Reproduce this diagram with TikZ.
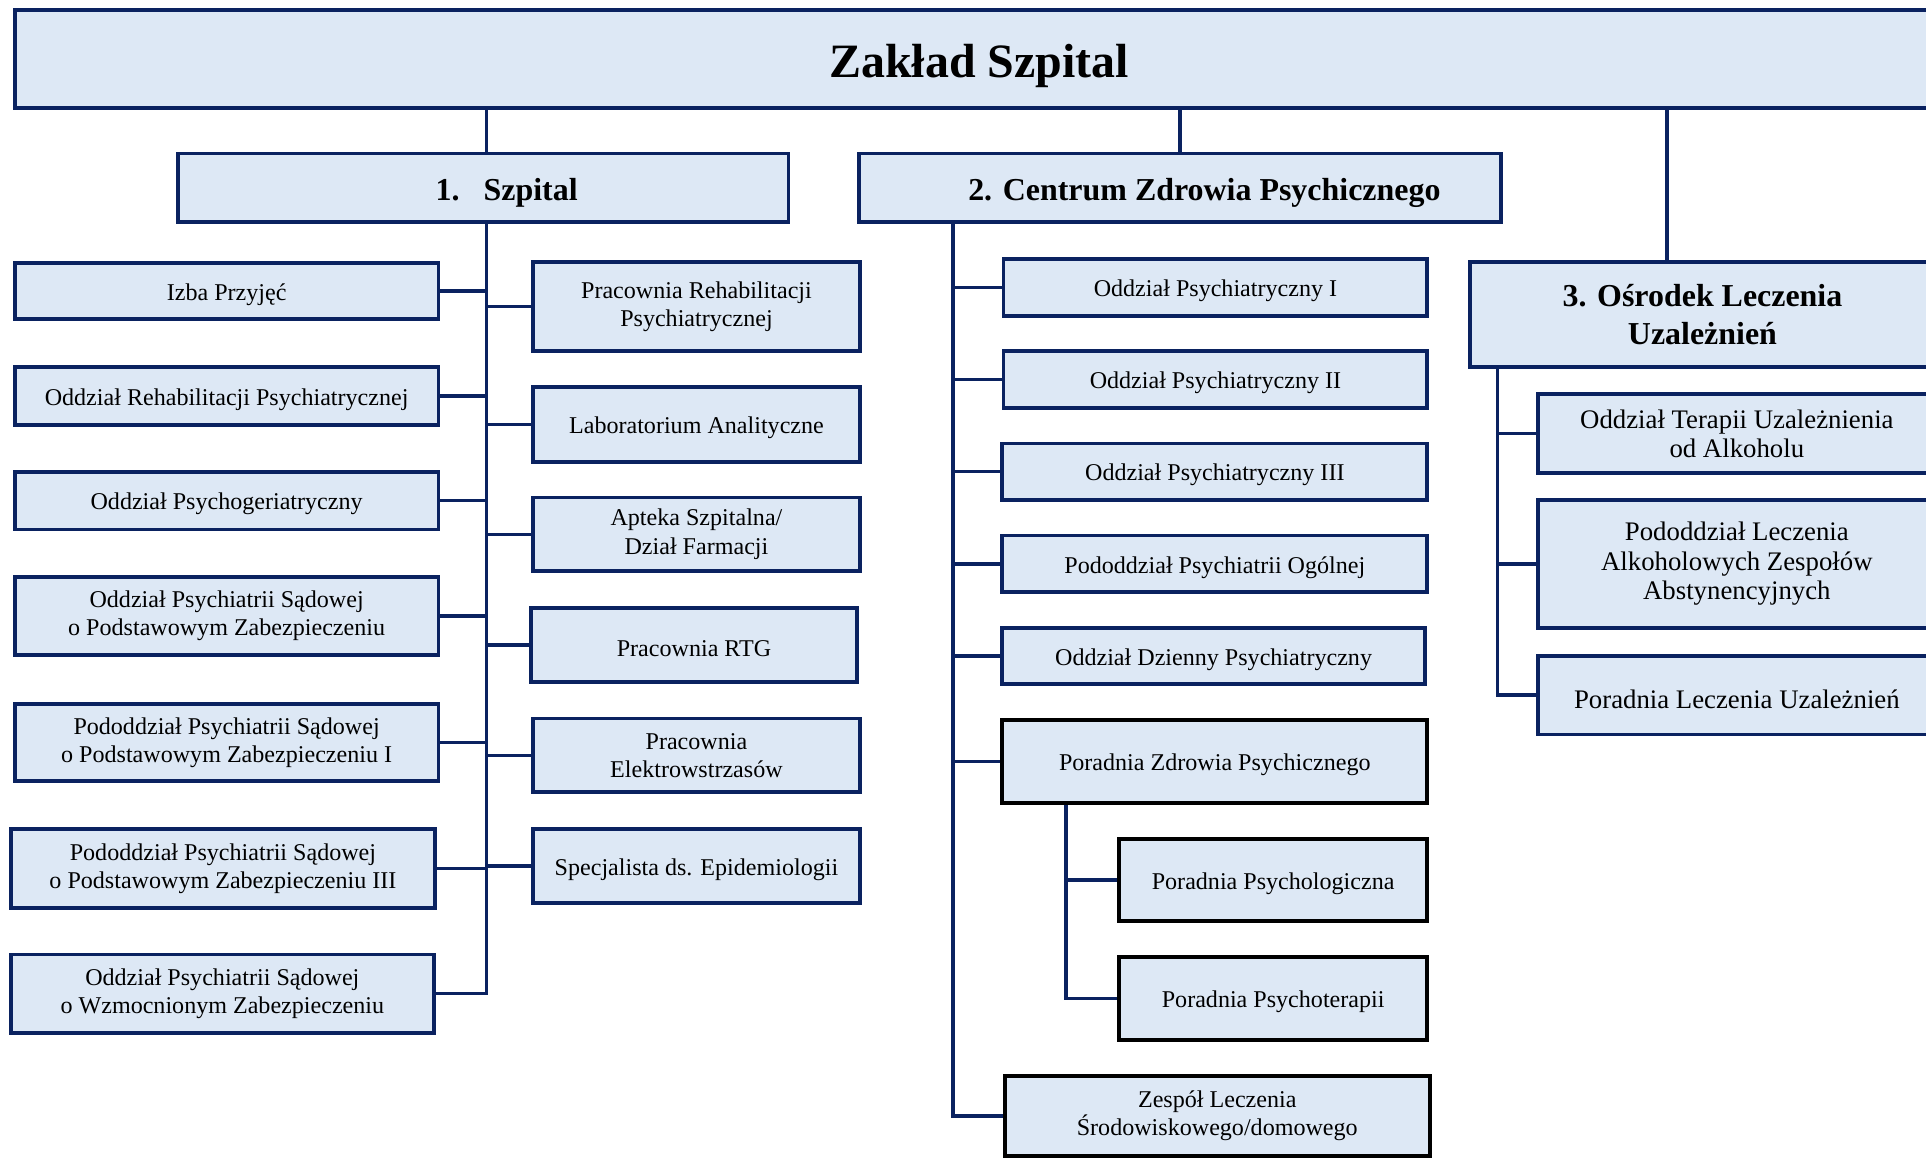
\documentclass[tikz,border=0pt]{standalone}
\usepackage{fontspec}
\setmainfont{Liberation Serif}
\definecolor{navy}{RGB}{10,34,96}
\definecolor{paleblue}{RGB}{221,232,245}
% \orgbox[style]{name}{x1}{y1}{x2}{y2}{text}
\newcommand{\orgbox}[7][box]{\pgfmathsetmacro\bw{#5-#3}\pgfmathsetmacro\bh{#6-#4}%
  \node[#1, minimum width=\bw pt, minimum height=\bh pt] (#2) at ({(#3+#5)/2},{(#4+#6)/2}) {#7};}
\tikzset{
  box/.style={draw=navy, fill=paleblue, line width=3.1pt, align=center, inner sep=1pt,
    font=\fontsize{19.6}{23}\selectfont, execute at begin node={\rule{0pt}{0.98em}}},
  blackbox/.style={box, draw=black},
  bigbox/.style={box, font=\fontsize{21.8}{24}\selectfont},
  head/.style={box, font=\bfseries\fontsize{26}{31}\selectfont},
  title/.style={box, font=\bfseries\fontsize{39}{42}\selectfont},
  link/.style={draw=navy, line width=2.9pt},
}
\begin{document}
\begin{tikzpicture}[x=1pt, y=-1pt]
\useasboundingbox (0,0) rectangle (1568,944);
\clip (0,0) rectangle (1568,944);

% top level
\orgbox[title]{zs}{12}{8}{1582}{88}{Zakład Szpital}
\orgbox[head]{szp}{145}{125}{642}{181}{\hspace*{38pt}1.\hspace{0.75em}Szpital}
\orgbox[head]{czp}{699}{125}{1222}{181}{\hspace*{40pt}2. Centrum Zdrowia Psychicznego}
\orgbox[head]{olu}{1197}{213}{1575}{299}{3. Ośrodek Leczenia\\Uzależnień}

% 1. Szpital, left column
\orgbox{izba}{12}{214}{357}{260}{Izba Przyjęć}
\orgbox{orp}{12}{299}{357}{346}{Oddział Rehabilitacji Psychiatrycznej}
\orgbox{opg}{12}{384}{357}{431}{Oddział Psychogeriatryczny}
\orgbox{ops}{12}{470}{357}{533}{Oddział Psychiatrii Sądowej\\o Podstawowym Zabezpieczeniu}
\orgbox{pps1}{12}{573}{357}{636}{Pododdział Psychiatrii Sądowej\\o Podstawowym Zabezpieczeniu I}
\orgbox{pps3}{9}{675}{354}{739}{Pododdział Psychiatrii Sądowej\\o Podstawowym Zabezpieczeniu III}
\orgbox{opw}{9}{777}{353}{841}{Oddział Psychiatrii Sądowej\\o Wzmocnionym Zabezpieczeniu}

% 1. Szpital, right column
\orgbox{prp}{434}{213}{700}{286}{Pracownia Rehabilitacji\\Psychiatrycznej}
\orgbox{lab}{434}{315}{700}{376}{Laboratorium Analityczne}
\orgbox{apt}{434}{405}{700}{465}{Apteka Szpitalna/\\Dział Farmacji}
\orgbox{rtg}{432}{495}{698}{555}{Pracownia RTG}
\orgbox{pel}{434}{585}{700}{645}{Pracownia\\Elektrowstrzasów}
\orgbox{epi}{434}{675}{700}{735}{Specjalista ds. Epidemiologii}

% 2. Centrum Zdrowia Psychicznego
\orgbox{op1}{817}{211}{1162}{257}{Oddział Psychiatryczny I}
\orgbox{op2}{817}{286}{1162}{332}{Oddział Psychiatryczny II}
\orgbox{op3}{816}{361}{1162}{407}{Oddział Psychiatryczny III}
\orgbox{ppo}{816}{436}{1162}{482}{Pododdział Psychiatrii Ogólnej}
\orgbox{odp}{816}{511}{1160}{557}{Oddział Dzienny Psychiatryczny}
\orgbox[blackbox]{pzp}{816}{586}{1162}{654}{Poradnia Zdrowia Psychicznego}
\orgbox[blackbox]{ppl}{911}{683}{1162}{750}{Poradnia Psychologiczna}
\orgbox[blackbox]{ppt}{911}{779}{1162}{847}{Poradnia Psychoterapii}
\orgbox[blackbox]{zesp}{818}{876}{1164}{941}{Zespół Leczenia\\Środowiskowego/domowego}

% 3. Osrodek Leczenia Uzaleznien
\orgbox[bigbox]{otu}{1252}{321}{1576}{385}{Oddział Terapii Uzależnienia\\od Alkoholu}
\orgbox[bigbox]{pla}{1252}{407}{1576}{511}{Pododdział Leczenia\\Alkoholowych Zespołów\\Abstynencyjnych}
\orgbox[bigbox]{plu}{1252}{534}{1576}{598}{Poradnia Leczenia Uzależnień}

% connectors from the top
\coordinate (t1) at (396,0);
\draw[link] (zs.south -| t1) -- (szp.north -| t1);
\draw[link] (zs.south -| czp.north) -- (czp.north);
\coordinate (t3) at (1357,0);
\draw[link] (zs.south -| t3) -- (olu.north -| t3);

% trunk of 1.
\draw[link] (szp.south -| t1) |- (opw.east);
\foreach \n in {izba, orp, opg, ops, pps1, pps3}
  \draw[link] (\n.east) -- (\n.east -| t1);
\foreach \n in {prp, lab, apt, rtg, pel, epi}
  \draw[link] (\n.west) -- (\n.west -| t1);

% trunk of 2.
\coordinate (t2) at (776,0);
\draw[link] (czp.south -| t2) |- (zesp.west);
\foreach \n in {op1, op2, op3, ppo, odp, pzp}
  \draw[link] (\n.west) -- (\n.west -| t2);
\coordinate (t2b) at (868,0);
\draw[link] (pzp.south -| t2b) |- (ppt.west);
\draw[link] (ppl.west) -- (ppl.west -| t2b);

% trunk of 3.
\coordinate (t3b) at (1219,0);
\draw[link] (olu.south -| t3b) |- (plu.west);
\foreach \n in {otu, pla}
  \draw[link] (\n.west) -- (\n.west -| t3b);
\end{tikzpicture}
\end{document}
